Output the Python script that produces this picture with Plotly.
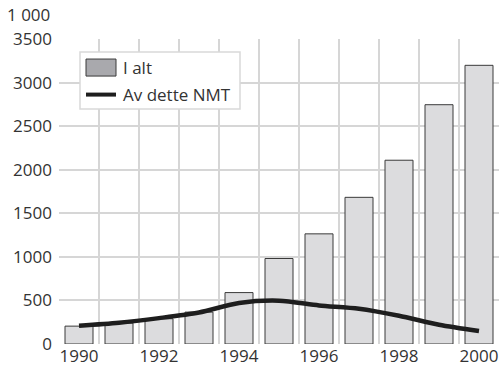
import plotly.graph_objects as go

# Yearly totals (in thousands)
years = [1990, 1991, 1992, 1993, 1994, 1995, 1996, 1997, 1998, 1999, 2000]
i_alt = [205, 240, 290, 366, 590, 981, 1264, 1683, 2109, 2746, 3198]
nmt = [210, 244, 297, 362, 470, 497, 443, 405, 324, 221, 148]
series_names = ["I alt", "Av dette NMT"]
x_ticks = [1990, 1992, 1994, 1996, 1998, 2000]
y_ticks = [0, 500, 1000, 1500, 2000, 2500, 3000, 3500]
unit_label = "1 000"

FONT = "Open Sans"
TEXT = "#333333"
GRID = "#d6d6d6"
BAR_FILL = "#dcdcde"
BAR_EDGE = "#3a3a3a"
LINE = "#1e1e1e"

fig = go.Figure()

fig.add_trace(go.Bar(
    x=years, y=i_alt, name=series_names[0], width=0.7,
    marker=dict(color=BAR_FILL, line=dict(color=BAR_EDGE, width=1)),
    showlegend=False,
))
fig.add_trace(go.Scatter(
    x=years, y=nmt, name=series_names[1], mode="lines",
    line=dict(color=LINE, width=4.5, shape="spline", smoothing=0.8),
    showlegend=False,
))


# Helpers converting pixel positions inside the figure to paper coordinates
def px(x):
    return (x - 59) / 440.0


def py(y):
    return 1 - (y - 39) / 304.5


# Boxed legend in the upper-left corner of the plot area
shapes = [
    dict(type="rect", xref="paper", yref="paper",
         x0=px(80), x1=px(240), y0=py(109), y1=py(52),
         fillcolor="white", line=dict(color="#d9d9d9", width=1.5), layer="above"),
    dict(type="rect", xref="paper", yref="paper",
         x0=px(86), x1=px(116), y0=py(76), y1=py(59),
         fillcolor="#a9a9ad", line=dict(color=BAR_EDGE, width=1), layer="above"),
    dict(type="line", xref="paper", yref="paper",
         x0=px(86), x1=px(116), y0=py(94.5), y1=py(94.5),
         line=dict(color=LINE, width=4), layer="above"),
]
annotations = [
    dict(text=series_names[0], xref="paper", yref="paper", x=px(121), y=py(67.5),
         xanchor="left", yanchor="middle", showarrow=False,
         font=dict(family=FONT, size=17, color=TEXT)),
    dict(text=series_names[1], xref="paper", yref="paper", x=px(121), y=py(94.5),
         xanchor="left", yanchor="middle", showarrow=False,
         font=dict(family=FONT, size=17, color=TEXT)),
    dict(text=unit_label, xref="paper", yref="paper", x=px(52), y=py(28.5),
         xanchor="right", yanchor="bottom", showarrow=False,
         font=dict(family=FONT, size=17, color=TEXT)),
]

fig.update_layout(
    width=499, height=375,
    margin=dict(l=59, r=0, t=39, b=31),
    paper_bgcolor="white", plot_bgcolor="white",
    font=dict(family=FONT, size=17, color=TEXT),
    barmode="overlay",
    shapes=shapes, annotations=annotations,
    xaxis=dict(
        range=[1989.5, 2000.5], tickmode="array", tickvals=x_ticks,
        ticktext=[str(v) for v in x_ticks],
        showgrid=False, zeroline=False, showline=False, ticks="",
        minor=dict(tickmode="array", tickvals=[y - 0.5 for y in years] + [2000.5],
                   showgrid=True, gridcolor=GRID, gridwidth=2, ticks=""),
        fixedrange=True,
    ),
    yaxis=dict(
        range=[0, 3500], tickmode="array", tickvals=y_ticks,
        showgrid=True, gridcolor=GRID, gridwidth=2,
        zeroline=False, showline=False, ticks="", ticklabelstandoff=6,
        fixedrange=True,
    ),
)

fig.write_html("out.html")
